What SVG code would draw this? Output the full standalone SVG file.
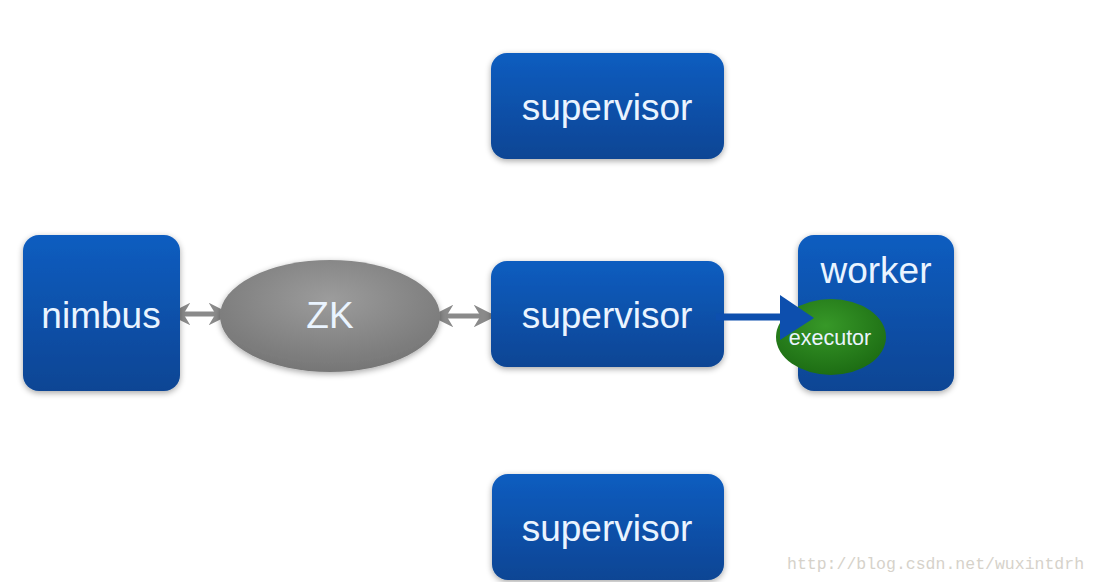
<svg xmlns="http://www.w3.org/2000/svg" width="1098" height="582" viewBox="0 0 1098 582">
<defs>
<linearGradient id="blue" x1="0" y1="0" x2="0" y2="1">
<stop offset="0" stop-color="#0f5dc0"/>
<stop offset="1" stop-color="#0a4594"/>
</linearGradient>
<radialGradient id="gray" cx="0.5" cy="0.35" r="0.7">
<stop offset="0" stop-color="#9c9c9c"/>
<stop offset="1" stop-color="#737373"/>
</radialGradient>
<radialGradient id="green" cx="0.45" cy="0.35" r="0.7">
<stop offset="0" stop-color="#379828"/>
<stop offset="1" stop-color="#1b6a12"/>
</radialGradient>
<filter id="sh" x="-10%" y="-10%" width="120%" height="125%">
<feGaussianBlur in="SourceAlpha" stdDeviation="3"/>
<feOffset dy="2"/>
<feComponentTransfer><feFuncA type="linear" slope="0.35"/></feComponentTransfer>
<feMerge><feMergeNode/><feMergeNode in="SourceGraphic"/></feMerge>
</filter>
<marker id="gh" viewBox="0 0 10 10" refX="9" refY="5" markerWidth="4.5" markerHeight="4.5" orient="auto-start-reverse">
<path d="M0,0 L10,5 L0,10 L3,5 Z" fill="#8a8a8a"/>
</marker>
</defs>
<style>
.box{fill:url(#blue);filter:url(#sh)}
.lbl{font-family:"Liberation Sans",Arial,sans-serif;fill:#eaf4ff;text-anchor:middle}
.big{font-size:37px}
.gline{stroke:#8a8a8a;stroke-width:5;fill:none}
</style>
<rect width="1098" height="582" fill="#ffffff"/>
<g id="connectors">
<line class="gline" x1="170" y1="314" x2="229" y2="314" marker-start="url(#gh)" marker-end="url(#gh)"/>
<line class="gline" x1="433" y1="316" x2="494" y2="316" marker-start="url(#gh)" marker-end="url(#gh)"/>
</g>
<g id="supervisor1">
<rect class="box" x="491" y="53" width="233" height="106" rx="16"/>
<text class="lbl big" x="607" y="120">supervisor</text>
</g>
<g id="nimbus">
<rect class="box" x="23" y="235" width="157" height="156" rx="16"/>
<text class="lbl big" x="101" y="328">nimbus</text>
</g>
<g id="zk">
<ellipse cx="330" cy="316" rx="110" ry="56" fill="url(#gray)" filter="url(#sh)"/>
<text class="lbl big" x="330" y="328">ZK</text>
</g>
<g id="supervisor2">
<rect class="box" x="491" y="261" width="233" height="106" rx="16"/>
<text class="lbl big" x="607" y="328">supervisor</text>
</g>
<g id="supervisor3">
<rect class="box" x="492" y="474" width="232" height="106" rx="16"/>
<text class="lbl big" x="607" y="541">supervisor</text>
</g>
<g id="worker">
<rect class="box" x="798" y="235" width="156" height="156" rx="16"/>
<text class="lbl big" x="876" y="283">worker</text>
</g>
<g id="executor">
<ellipse cx="831" cy="337" rx="55" ry="38" fill="url(#green)"/>
</g>
<g id="exec-arrow">
<line x1="716" y1="317" x2="784" y2="317" stroke="#0d4fae" stroke-width="7"/>
<path d="M780,295 L814,318 L780,340 Z" fill="#0d4fae"/>
</g>
<g id="executor-label">
<text class="lbl" x="830" y="345" font-size="21.5">executor</text>
</g>
<text x="787" y="569" font-family="'Liberation Mono','DejaVu Sans Mono',monospace" font-size="16.5" fill="#d6d2ca">http://blog.csdn.net/wuxintdrh</text>
</svg>
